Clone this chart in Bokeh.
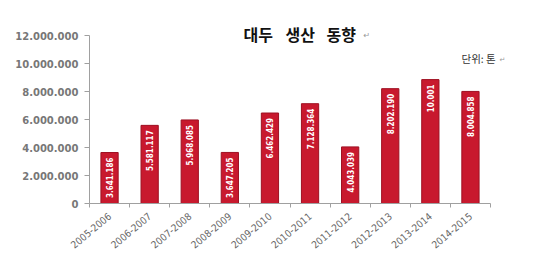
import math
from bokeh.plotting import figure
from bokeh.models import ColumnDataSource, FixedTicker, Range1d, Label
from bokeh.core.properties import value
from bokeh.embed import file_html
from bokeh.resources import INLINE

seasons = ["2005-2006", "2006-2007", "2007-2008", "2008-2009", "2009-2010",
           "2010-2011", "2011-2012", "2012-2013", "2013-2014", "2014-2015"]
production = [3641186, 5581117, 5968085, 3647205, 6462429,
              7128364, 4043039, 8202190, 8850000, 8004858]
bar_labels = ["3.641.186", "5.581.117", "5.968.085", "3.647.205", "6.462.429",
              "7.128.364", "4.043.039", "8.202.190", "10.001", "8.004.858"]
y_ticks = [0, 2000000, 4000000, 6000000, 8000000, 10000000, 12000000]
y_tick_labels = ["0", "2.000.000", "4.000.000", "6.000.000", "8.000.000",
                 "10.000.000", "12.000.000"]
title_words = ["대두", "생산", "동향"]
unit_text = "단위: 톤"

# layout constants (pixels)
LEFT, TOP, BOTTOM, W, H = 89, 35, 55, 553, 258
CAT_PX = 40.1
Y_MAX = 12000000
PX_PER_UNIT = 168 / Y_MAX

n = len(seasons)
xs = [i + 0.5 for i in range(n)]
src = ColumnDataSource(dict(x=xs, top=production, lab=bar_labels))

x_hi = (W - LEFT) / CAT_PX
y_hi = Y_MAX + TOP / PX_PER_UNIT

p = figure(width=W, height=H, output_backend="svg", toolbar_location=None,
           x_range=Range1d(0, x_hi), y_range=Range1d(0, y_hi),
           min_border_left=LEFT, min_border_right=0, min_border_top=0,
           min_border_bottom=BOTTOM)
p.outline_line_color = None
p.xgrid.visible = False
p.ygrid.visible = False
p.background_fill_color = "white"
p.border_fill_color = "white"

p.vbar(x="x", top="top", width=0.43, bottom=0, source=src,
       fill_color="#c8192e", line_color="#9e1022", line_width=1)
p.text(x="x", y="top", text="lab", source=src, angle=math.pi / 2,
       text_align="right", text_baseline="middle", y_offset=5,
       text_color="white", text_font=value("DejaVu Sans Condensed"),
       text_font_style="bold", text_font_size="8px")

# y axis
p.yaxis.bounds = (0, Y_MAX)
p.yaxis.ticker = FixedTicker(ticks=y_ticks)
p.yaxis.major_label_overrides = {t: l for t, l in zip(y_ticks, y_tick_labels)}
p.yaxis.major_tick_out = 5
p.yaxis.major_tick_in = 0
p.yaxis.minor_tick_out = 0
p.yaxis.minor_tick_in = 0
p.yaxis.axis_line_color = "#a0a0a0"
p.yaxis.major_tick_line_color = "#a0a0a0"
p.yaxis.major_label_text_font = "DejaVu Sans"
p.yaxis.major_label_text_font_style = "bold"
p.yaxis.major_label_text_font_size = "10px"
p.yaxis.major_label_text_color = "#777777"
p.yaxis.major_label_standoff = 6

# x axis
p.xaxis.bounds = (0, n)
p.xaxis.ticker = FixedTicker(ticks=xs, minor_ticks=list(range(n + 1)))
p.xaxis.major_label_overrides = {x: s for x, s in zip(xs, seasons)}
p.xaxis.major_tick_out = 0
p.xaxis.major_tick_in = 0
p.xaxis.minor_tick_out = 4
p.xaxis.minor_tick_in = 0
p.xaxis.axis_line_color = "#a0a0a0"
p.xaxis.minor_tick_line_color = "#a0a0a0"
p.xaxis.major_label_orientation = math.radians(40)
p.xaxis.major_label_text_font = "DejaVu Sans Condensed"
p.xaxis.major_label_text_font_size = "10px"
p.xaxis.major_label_text_color = "#666666"
p.xaxis.major_label_standoff = 7

def px_x(px):
    return (px - LEFT) / CAT_PX

def px_y(py):
    return (H - BOTTOM - py) / PX_PER_UNIT

# title (word by word, wide spacing as in the source) and unit note
for word, left_px in zip(title_words, [243, 285, 326]):
    p.add_layout(Label(x=px_x(left_px), y=px_y(33), text=word,
                       text_font="Noto Sans CJK KR", text_font_style="bold",
                       text_font_size="16px", text_color="#111111",
                       text_align="left", text_baseline="middle"))
p.add_layout(Label(x=px_x(363), y=px_y(35), text="↵", text_font="DejaVu Sans",
                   text_font_size="8px", text_color="#999999",
                   text_align="left", text_baseline="middle"))
p.add_layout(Label(x=px_x(461), y=px_y(58), text=unit_text,
                   text_font="Noto Sans CJK KR", text_font_size="10.5px",
                   text_color="#333333", text_align="left",
                   text_baseline="middle"))
p.add_layout(Label(x=px_x(499), y=px_y(59), text="↵", text_font="DejaVu Sans",
                   text_font_size="7px", text_color="#999999",
                   text_align="left", text_baseline="middle"))

open("out.html", "w").write(file_html(p, INLINE))
